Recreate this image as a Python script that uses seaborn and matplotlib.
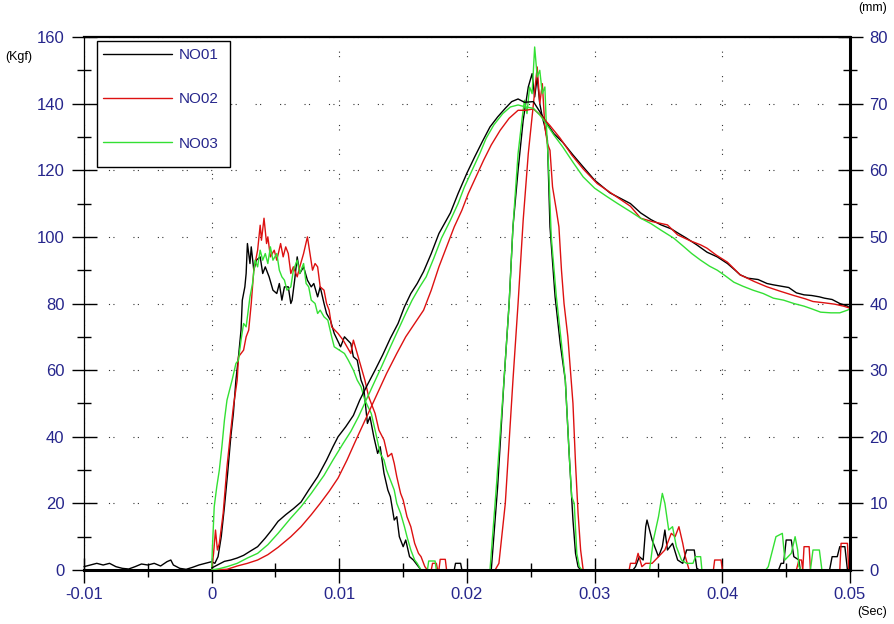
import numpy as np
import matplotlib
matplotlib.use("Agg")
import matplotlib.pyplot as plt
import matplotlib.patches as mpatches
from matplotlib.ticker import MultipleLocator, FixedLocator
import seaborn as sns

# ---------------- data (time in ms, force in Kgf, displacement in mm) ----------------
series_names = ["NO01", "NO02", "NO03"]
series_colors = ["#000000", "#dd1111", "#33e033"]

no01_force_ms = [-10, -9.5, -9, -8.5, -8, -7.5, -7, -6.5, -6, -5.5, -5, -4.5, -4, -3.5, -3.2, -3, -2.5, -2, -1.5, -1, -0.5, 0,
                 0.25, 0.5, 0.75, 1.0, 1.25, 1.5, 1.7, 1.9, 2.1, 2.3, 2.4, 2.6, 2.7, 2.8, 3.0, 3.1, 3.3, 3.5, 3.8, 4.0, 4.2,
                 4.5, 4.8, 5.1, 5.3, 5.5, 5.7, 6.0, 6.2, 6.3, 6.5, 6.7, 6.9, 7.2, 7.5, 7.8, 8.0, 8.3, 8.5, 8.8, 9.0, 9.3,
                 9.6, 10.1, 10.4, 10.9, 11.1, 11.4, 11.7, 11.9, 12.2, 12.4, 12.7, 13.0, 13.2, 13.5, 13.8, 14.0, 14.3, 14.5,
                 14.7, 15.0, 15.2, 15.5, 15.8, 16.0, 16.4, 19.0, 19.1, 19.5, 19.6, 21.9, 22.4, 22.9, 23.3, 23.6, 24.0, 24.4,
                 24.8, 25.1, 25.3, 25.5, 25.7, 25.9, 26.1, 26.3, 26.5, 26.9, 27.3, 27.7, 28.0, 28.3, 28.5, 28.7, 28.9, 33.0,
                 33.2, 33.5, 33.8, 34.0, 34.1, 34.5, 34.7, 35.0, 35.3, 35.5, 35.7, 36.1, 36.5, 36.9, 37.2, 37.4, 37.8, 38.0,
                 38.2, 44.4, 44.6, 44.8, 45.0, 45.4, 45.6, 46.0, 46.1, 48.4, 48.6, 49.0, 49.2, 49.6, 49.8, 50.0]
no01_force = [1.0, 1.5, 2.0, 1.5, 2.0, 1.0, 0.5, 0.3, 1.0, 1.8, 1.5, 2.0, 1.2, 2.5, 3.0, 1.5, 0.5, 0.2, 0.8, 1.5, 2.0, 2.5,
              2.0, 4.0, 10, 19, 29, 40, 47, 57, 64, 72, 81, 85, 89, 98, 92, 97, 90, 93, 94, 89, 91,
              88, 84, 83, 86, 81, 85, 85, 80, 81, 87, 94, 89, 91, 87, 85, 86, 82, 85, 80, 77, 75,
              71, 67, 70, 68, 64, 63, 57, 55, 44, 46, 40, 35, 37, 29, 24, 22, 15, 16,
              10, 7, 9, 4, 3, 2, 0, 0, 2, 2, 0, 0, 25, 57, 80, 103, 120, 135,
              145, 149, 142, 148, 140, 136, 133, 129, 103, 82, 68, 57, 35, 15, 5, 1, 0, 0,
              1, 4, 3, 13, 15, 9, 7, 4, 7, 12, 6, 8, 3, 2, 6, 6, 6, 0.5,
              0, 0, 2, 2, 9, 9, 4, 3, 0, 0, 4, 4, 7, 7, 0, 0]

no02_force_ms = [-10, 0, 0.15, 0.3, 0.45, 0.6, 0.9, 1.2, 1.5, 1.7, 2.0, 2.1, 2.5, 2.7, 2.9, 3.1, 3.3, 3.6, 3.8, 3.9, 4.1,
                 4.3, 4.4, 4.6, 4.9, 5.1, 5.4, 5.6, 5.8, 6.0, 6.2, 6.4, 6.7, 6.9, 7.2, 7.5, 7.7, 7.9, 8.1, 8.3, 8.5,
                 8.8, 9.0, 9.2, 9.4, 9.9, 10.3, 10.6, 10.9, 11.1, 11.4, 11.7, 12.0, 12.3, 12.5, 12.8, 13.1, 13.5, 13.8,
                 14.1, 14.3, 14.5, 14.8, 15.0, 15.3, 15.6, 15.9, 16.2, 16.4, 16.7, 16.9, 17.2, 17.3, 17.6, 17.7, 17.8,
                 17.9, 18.3, 18.4, 22.2, 22.5, 23.0, 23.6, 24.0, 24.4, 24.8, 25.2, 25.5, 25.7, 25.9, 26.1, 26.3, 26.5,
                 26.7, 27.0, 27.2, 27.4, 27.6, 27.9, 28.1, 28.3, 28.5, 28.7, 28.9, 29.1, 32.7, 32.8, 33.2, 33.4, 33.7,
                 34.0, 34.5, 35.0, 35.5, 35.7, 36.0, 36.3, 36.6, 36.9, 37.1, 37.4, 39.3, 39.4, 39.9, 40.0, 45.8, 46.0,
                 46.2, 46.3, 46.4, 46.8, 46.9, 49.2, 49.3, 49.8, 49.9, 50.0]
no02_force = [0, 0, 5, 12, 6, 8, 17, 31, 42, 49, 57, 64, 66, 70, 72, 80, 90, 96, 103.5, 99, 105.6,
              98, 100, 94, 96, 93, 98, 94, 97, 95, 89, 91, 88, 91, 95, 100, 95, 90, 92, 91, 85,
              84, 80, 78, 73, 71, 69, 67, 65, 69, 65, 61, 57, 52, 50, 47, 42, 39, 34,
              35, 32, 28, 23, 21, 16, 13, 8, 5, 4, 1, 0, 0, 2, 2, 0, 0,
              3.2, 3.2, 0, 0, 2, 20, 57, 80, 105, 125, 140, 151, 140, 146, 133, 128, 126,
              115, 108, 103, 90, 80, 70, 60, 50, 32, 17, 6, 0, 0, 2, 2, 5, 1,
              2, 2, 4, 6, 8, 11, 10, 13, 8, 4, 0, 0, 3, 3, 0, 0, 3,
              3, 0, 7, 7, 0, 0, 8, 8, 0, 0]

no03_force_ms = [-10, 0, 0.05, 0.2, 0.4, 0.6, 0.8, 1.0, 1.2, 1.6, 1.9, 2.1, 2.3, 2.5, 2.7, 3.0, 3.2, 3.4, 3.6, 3.8, 4.0,
                 4.2, 4.4, 4.6, 4.8, 5.1, 5.3, 5.5, 5.7, 5.9, 6.2, 6.4, 6.7, 6.9, 7.2, 7.4, 7.6, 7.8, 8.1, 8.3, 8.5,
                 8.8, 9.1, 9.4, 9.6, 10.0, 10.4, 10.7, 11.1, 11.4, 11.7, 12.0, 12.5, 12.8, 13.2, 13.5, 13.7, 14.0, 14.3,
                 14.5, 14.8, 15.1, 15.3, 15.6, 15.9, 16.1, 16.4, 16.9, 17.0, 17.5, 17.6, 21.8, 22.3, 22.9, 23.3, 23.6,
                 24.0, 24.3, 24.5, 24.7, 24.9, 25.1, 25.3, 25.5, 25.7, 25.9, 26.1, 26.2, 26.4, 26.6, 27.0, 27.4, 27.7,
                 28.0, 28.2, 28.4, 28.6, 28.8, 29.0, 34.3, 34.6, 35.0, 35.3, 35.5, 35.8, 36.1, 36.4, 36.8, 37.2, 37.7,
                 37.9, 38.3, 38.4, 43.4, 43.6, 44.2, 44.7, 44.9, 45.4, 45.7, 45.9, 46.0, 46.2, 46.9, 47.1, 47.6, 47.8,
                 50.0]
no03_force = [0, 0, 6, 19, 25, 30, 37, 45, 51, 57, 62, 63, 69, 74, 73, 82, 86, 93, 91, 96, 93,
              95, 92, 97, 93, 95, 90, 88, 87, 84, 85, 90, 93, 89, 92, 86, 85, 81, 80, 77, 78,
              76, 75, 70, 67, 66, 65, 63, 60, 57, 55, 51, 47, 42, 35, 33, 30, 27, 24,
              20, 17, 13, 10, 6, 3, 2, 0, 0, 2.7, 2.7, 0, 0, 25, 57, 80, 103,
              125, 135, 141, 137, 145, 143, 157, 148, 150, 143, 145, 135, 120, 100, 82, 68, 57,
              35, 22, 20, 5, 1, 0, 0, 9, 16, 23, 20, 12, 13, 7, 3, 2, 2,
              4, 4, 0, 0, 1, 10, 11, 3, 5, 10, 6, 1, 0, 0, 6, 6, 0,
              0]

no01_disp_ms = [0, 0.5, 1.0, 1.5, 2.0, 2.5, 3.0, 3.6, 4.2, 4.7, 5.2, 5.8, 6.4, 7.0, 7.6, 8.3, 9.0, 9.5, 9.9, 10.5,
                11.1, 11.6, 12.2, 12.8, 13.4, 14.0, 14.6, 15.1, 15.6, 16.1, 16.6, 17.2, 17.8, 18.7, 19.3, 20.0, 20.6,
                21.2, 21.8, 22.4, 23.0, 23.5, 24.0, 24.5, 25.2, 25.7, 26.2, 26.8, 27.5, 28.3, 29.1, 30.0, 31.2, 32.0,
                32.8, 33.6, 34.4, 35.2, 36.0, 36.5, 37.2, 38.0, 38.8, 39.6, 40.4, 41.0, 41.4, 42.0, 42.8, 43.5, 44.0,
                44.6, 45.2, 45.8, 46.4, 47.0, 47.6, 48.0, 48.6, 49.2, 49.8, 50.0]
no01_disp = [0.3, 0.8, 1.3, 1.5, 1.8, 2.2, 2.8, 3.5, 4.8, 6.0, 7.3, 8.3, 9.2, 10.2, 12.0, 14.0, 16.5, 18.5, 20.0, 21.5,
             23.2, 25.5, 27.8, 30.0, 32.3, 34.8, 37.0, 39.5, 41.5, 43.0, 44.8, 47.5, 50.5, 53.6, 56.5, 59.6, 62.0,
             64.3, 66.5, 68.0, 69.3, 70.3, 70.7, 70.2, 70.3, 68.8, 67.2, 65.5, 64.2, 62.3, 60.5, 58.5, 56.6, 55.8,
             55.0, 53.6, 52.6, 51.8, 51.2, 50.6, 49.8, 48.8, 47.7, 47.0, 46.0, 45.0, 44.3, 43.8, 43.6, 43.0, 42.8,
             42.6, 42.4, 41.6, 41.3, 41.2, 41.0, 40.8, 40.6, 40.0, 39.6, 39.3]

no02_disp_ms = [0, 1.2, 2.0, 2.8, 3.6, 4.4, 5.2, 6.2, 7.0, 7.8, 8.5, 9.2, 9.9, 10.6, 11.3, 11.9, 12.5, 13.1, 13.7, 14.5,
                15.2, 15.9, 16.6, 17.2, 17.8, 18.4, 19.0, 19.6, 20.1, 20.7, 21.3, 21.9, 22.6, 23.3, 24.0, 24.6, 25.2,
                25.8, 26.5, 27.3, 28.2, 29.1, 30.2, 31.5, 32.8, 33.6, 34.5, 35.7, 36.5, 37.5, 38.3, 38.8, 39.5, 40.4,
                41.4, 42.5, 43.5, 44.6, 45.6, 46.5, 47.1, 48.0, 48.8, 49.5, 50.0]
no02_disp = [0, 0.1, 0.6, 1.0, 1.5, 2.3, 3.4, 5.0, 6.5, 8.3, 10.0, 11.8, 13.8, 16.5, 19.5, 22.0, 24.5, 27.0, 29.5, 32.5,
             35.0, 37.0, 39.0, 42.0, 45.5, 48.5, 51.5, 54.0, 56.5, 59.0, 61.5, 63.8, 66.0, 67.8, 69.0, 69.0, 69.2,
             68.2, 66.7, 64.8, 62.3, 60.2, 58.0, 56.3, 54.6, 52.8, 52.3, 51.8, 50.3, 49.4, 48.8, 48.3, 47.3, 46.2,
             44.3, 43.3, 42.5, 41.8, 41.2, 40.7, 40.3, 40.1, 39.9, 39.6, 39.3]

no03_disp_ms = [0, 0.6, 1.2, 2.0, 2.8, 3.6, 4.4, 5.2, 6.2, 7.0, 7.8, 8.8, 9.5, 10.3, 10.9, 11.5, 12.1, 12.7, 13.3, 14.0,
                14.6, 15.2, 15.7, 16.3, 16.8, 17.4, 18.0, 18.7, 19.3, 19.8, 20.4, 21.0, 21.5, 22.1, 22.8, 23.4, 24.0,
                24.6, 25.2, 25.7, 26.2, 26.8, 27.5, 28.3, 29.1, 30.0, 31.0, 31.8, 32.8, 33.6, 34.4, 35.2, 36.2, 37.0,
                37.6, 38.3, 39.0, 39.6, 40.2, 40.9, 41.6, 42.4, 43.2, 44.0, 44.8, 45.6, 46.4, 47.0, 47.7, 48.5, 49.2,
                49.8, 50.0]
no03_disp = [0, 0.2, 0.5, 1.0, 1.8, 2.5, 3.8, 5.5, 7.8, 9.5, 11.5, 14.2, 16.5, 19.0, 20.8, 23.0, 25.5, 28.0, 30.5, 33.5,
             36.0, 38.5, 40.5, 42.5, 44.0, 46.8, 49.8, 52.5, 55.0, 57.5, 60.0, 62.5, 64.8, 66.8, 68.5, 69.5, 69.8,
             69.5, 69.3, 68.3, 67.0, 65.3, 63.5, 61.2, 59.0, 57.3, 56.0, 55.0, 53.8, 52.8, 52.0, 51.0, 49.8, 48.5,
             47.5, 46.5, 45.6, 45.0, 44.2, 43.2, 42.6, 42.0, 41.5, 40.8, 40.5, 40.0, 39.6, 39.2, 38.7, 38.6, 38.6,
             39.0, 39.2]

x_ticks = [-0.01, 0, 0.01, 0.02, 0.03, 0.04, 0.05]
x_tick_labels = ["-0.01", "0", "0.01", "0.02", "0.03", "0.04", "0.05"]
left_ticks = [0, 20, 40, 60, 80, 100, 120, 140, 160]
right_ticks = [0, 10, 20, 30, 40, 50, 60, 70, 80]

force_t = [no01_force_ms, no02_force_ms, no03_force_ms]
force_v = [no01_force, no02_force, no03_force]
disp_t = [no01_disp_ms, no02_disp_ms, no03_disp_ms]
disp_v = [no01_disp, no02_disp, no03_disp]

# ---------------- style ----------------
sns.set_theme(style="white")
plt.rcParams["font.family"] = ["Liberation Sans", "DejaVu Sans"]
navy = "#26268c"
lw = 1.0

fig = plt.figure(figsize=(8.94, 6.24), dpi=100)
ax = fig.add_axes([84 / 894, 54 / 624, 766 / 894, 533 / 624])
ax.set_facecolor("white")
ax2 = ax.twinx()

for name, col, ft, fv in zip(series_names, series_colors, force_t, force_v):
    sns.lineplot(x=np.array(ft) / 1000.0, y=np.array(fv), ax=ax, color=col, linewidth=lw,
                 estimator=None, sort=False, label=name)
for name, col, dt, dv in zip(series_names, series_colors, disp_t, disp_v):
    sns.lineplot(x=np.array(dt) / 1000.0, y=np.array(dv), ax=ax2, color=col, linewidth=lw,
                 estimator=None, sort=False)

handles = ax.get_lines()[:3]
if ax.get_legend() is not None:
    ax.get_legend().remove()
if ax2.get_legend() is not None:
    ax2.get_legend().remove()

ax.set_xlim(-0.01, 0.05)
ax.set_ylim(0, 160)
ax2.set_ylim(0, 80)
ax.set_xlabel("")
ax.set_ylabel("")
ax2.set_ylabel("")

ax.xaxis.set_major_locator(FixedLocator(x_ticks))
ax.set_xticklabels(x_tick_labels)
ax.xaxis.set_minor_locator(MultipleLocator(0.005))
ax.yaxis.set_major_locator(FixedLocator(left_ticks))
ax.yaxis.set_minor_locator(MultipleLocator(10))
ax2.yaxis.set_major_locator(FixedLocator(right_ticks))
ax2.yaxis.set_minor_locator(MultipleLocator(5))

for a in (ax, ax2):
    a.tick_params(which="major", direction="inout", length=18, width=1, color="black",
                  labelsize=12, labelcolor=navy, pad=5)
    a.tick_params(which="minor", direction="inout", length=10, width=1, color="black")
ax.tick_params(axis="x", which="major", pad=3.5)
ax.tick_params(axis="y", which="both", left=True, right=False)
ax.tick_params(axis="x", which="both", bottom=True, top=False)
ax2.tick_params(axis="y", which="both", right=True, left=False)

# grid
grid_style = dict(color="#333333", linestyle=(0, (1, 3, 1, 17)), linewidth=0.8)
ax.grid(True, which="major", axis="both", **grid_style)
ax2.grid(False)

# spines
for s in ax.spines.values():
    s.set_color("black")
ax.spines["left"].set_linewidth(0.9)
ax.spines["bottom"].set_linewidth(2.2)
ax.spines["top"].set_linewidth(1.6)
ax.spines["right"].set_visible(False)
ax2.spines["left"].set_visible(False)
ax2.spines["bottom"].set_visible(False)
ax2.spines["top"].set_visible(False)
ax2.spines["right"].set_linewidth(2.2)
ax2.spines["right"].set_color("black")

for l in ax.get_lines():
    l.set_clip_on(False)

# legend box and legend
rect = mpatches.Rectangle((13 / 766, (570 - 167) / 533), 133 / 766, 126 / 533,
                          transform=ax2.transAxes, facecolor="white", edgecolor="black",
                          linewidth=1.0, zorder=5)
ax2.add_patch(rect)
leg = ax2.legend(handles, series_names, loc="upper left",
                 bbox_to_anchor=((103 - 84) / 766, (570 - 48) / 533),
                 borderaxespad=0, borderpad=0, frameon=False, fontsize=11,
                 handlelength=4.5, handletextpad=0.45, labelspacing=1.98, labelcolor=navy)
leg.set_zorder(6)

# unit labels
fig.text(5 / 894, 1 - 57 / 624, "(Kgf)", fontsize=9, color="black", va="center", ha="left")
fig.text(858 / 894, 1 - 8 / 624, "(mm)", fontsize=9, color="black", va="center", ha="left")
fig.text(857 / 894, 1 - 612 / 624, "(Sec)", fontsize=9, color="black", va="center", ha="left")

fig.savefig("out.png", dpi=100)
